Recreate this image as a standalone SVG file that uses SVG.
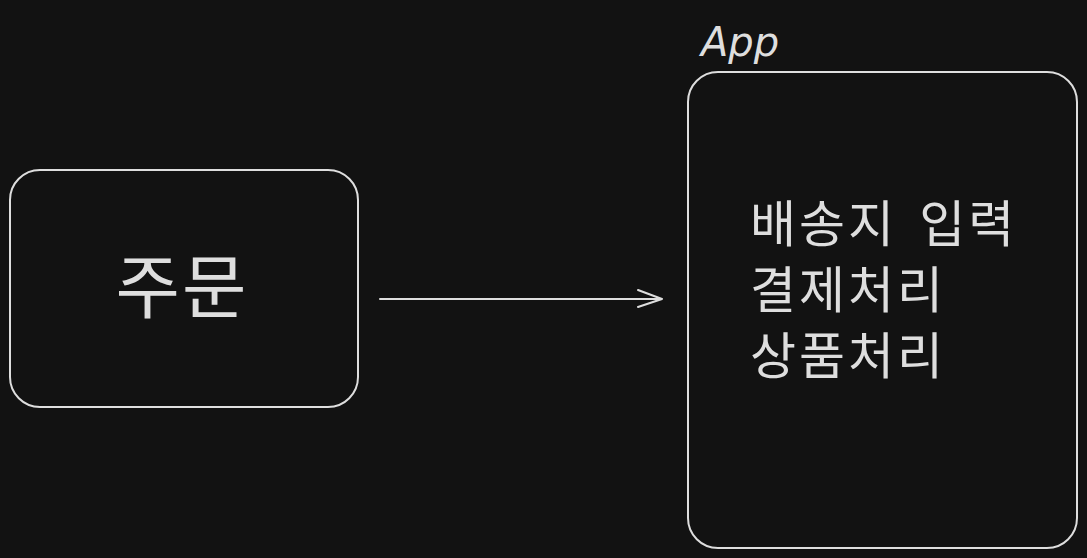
<svg xmlns="http://www.w3.org/2000/svg" width="1087" height="558" viewBox="0 0 1087 558">
<style>
.box{fill:none;stroke:#dedede;stroke-width:2}
.kr{font-family:"Noto Sans CJK KR","Noto Sans",sans-serif;fill:#dedede}
.conn{fill:none;stroke:#dedede;stroke-width:2;stroke-linecap:round;stroke-linejoin:round}
</style>
<rect width="1087" height="558" fill="#121212"/>
<g id="node-order">
<rect class="box" x="10" y="170" width="348" height="237" rx="30"/>
<text class="kr" x="182" y="313" font-size="70" letter-spacing="2" text-anchor="middle">주문</text>
</g>
<g id="node-app">
<rect class="box" x="688" y="72" width="389" height="476" rx="30"/>
<text x="701" y="56" font-family="'DejaVu Sans',sans-serif" font-style="italic" font-size="40" fill="#dedede">App</text>
<text class="kr" font-size="50" letter-spacing="3" word-spacing="8"><tspan x="750" y="242">배송지 입력</tspan><tspan x="750" y="308">결제처리</tspan><tspan x="750" y="374">상품처리</tspan></text>
</g>
<g id="connectors">
<path class="conn" d="M380 299 L662 299 M638 290 L662 299 L638 307"/>
</g>
</svg>
